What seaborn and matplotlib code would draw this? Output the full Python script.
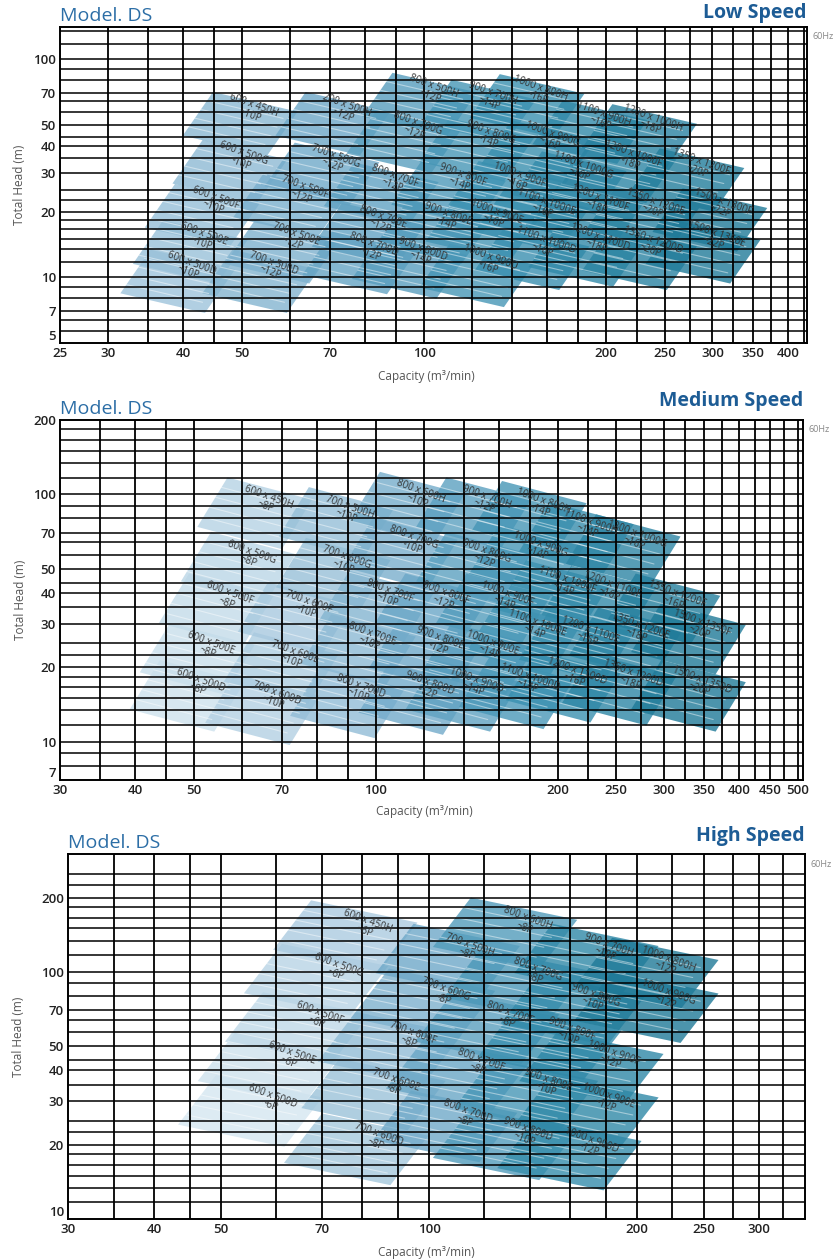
import numpy as np
import matplotlib
matplotlib.use("Agg")
import matplotlib.pyplot as plt
from matplotlib.ticker import FixedLocator, FixedFormatter, NullLocator
import seaborn as sns

# ---- Low speed (60Hz) ----------------------------------------------------
low_models = ["600 x 450H", "200 x 500H", "800 x 500H", "900 x 700H", "1000 x 800H",
              "1100 x 900H", "1200 x 1000H",
              "600 x 500G", "700 x 500G", "800 x 700G", "900 x 800G", "1000 x 900G",
              "1100 x 1000G", "1200 x 1000F", "1350 x 1200F", "1500 x 1300F",
              "600 x 500F", "700 x 500F", "800 x 700F", "900 x 800F", "1000 x 900F",
              "1100 x 1000E", "1200 x 1100F", "1350 x 1200E", "1500 x 1350E",
              "600 x 500E", "700 x 500E", "800 x 700E", "900 x 800E", "1000 x 900E",
              "1100 x 1000D", "1200 x 1100D", "1350 x 1200D",
              "600 x 500D", "700 x 500D", "800 x 700D", "900 x 800D", "1000 x 900D"]
low_poles = ["~10P", "~12P", "~12P", "~14P", "~16P", "~16P", "~18P",
             "~10P", "~12P", "~12P", "~14P", "~16P", "~16P", "~18P", "~20P", "~22P",
             "~10P", "~12P", "~12P", "~14P", "~16P", "~16P", "~18P", "~20P", "~22P",
             "~10P", "~12P", "~12P", "~14P", "~16P", "~16P", "~18P", "~20P",
             "~10P", "~12P", "~12P", "~14P", "~16P"]
low_q = [52, 74, 103, 129, 155, 197, 238,
         50, 71, 97, 128, 162, 182, 220, 285, 311,
         45, 63, 89, 115, 143, 158, 194, 240, 303,
         43, 61, 85, 109, 131, 158, 194, 238,
         41, 56, 82, 99, 128]
low_h = [58, 58, 71, 66, 70, 53, 51,
         35, 34, 48, 44, 43, 31, 35, 32, 21,
         22, 24.5, 27.6, 28, 28, 21, 22, 21, 15,
         15, 15, 18, 18.5, 19, 14, 14.5, 14,
         11, 11, 13.4, 12.8, 11.7]

# ---- Medium speed --------------------------------------------------------
med_models = ["600 x 450H", "700 x 500H", "800 x 600H", "900 x 700H", "1000 x 800H",
              "1100 x 900H", "1200 x 1000G",
              "600 x 500G", "700 x 600G", "800 x 700G", "900 x 800G", "1000 x 900G",
              "1100 x 1000F", "1200 x 1100F", "1350 x 1200F", "1500 x 1350F",
              "600 x 500F", "700 x 600F", "800 x 700F", "900 x 800F", "1000 x 900F",
              "1100 x 1000E", "1200 x 1100E", "1350 x 1200E",
              "600 x 500E", "700 x 600E", "800 x 700E", "900 x 800E", "1000 x 900E",
              "1100 x 1000D", "1200 x 1100D", "1350 x 1200D", "1500 x 1350D",
              "600 x 500D", "700 x 600D", "800 x 700D", "900 x 800D", "1000 x 900D"]
med_poles = ["~8P", "~10P", "~10P", "~12P", "~14P", "~14P", "~16P",
             "~8P", "~10P", "~10P", "~12P", "~14P", "~14P", "~16P", "~16P", "~20P",
             "~8P", "~10P", "~10P", "~12P", "~14P", "~14P", "~16P", "~18P",
             "~8P", "~10P", "~10P", "~12P", "~14P", "~14P", "~16P", "~18P", "~20P",
             "~8P", "~10P", "~10P", "~12P", "~14P"]
med_q = [66, 90, 118, 152, 188, 225, 269,
         62, 89, 115, 152, 186, 206, 245, 313, 345,
         57, 77, 105, 130, 164, 184, 225, 272,
         53, 73, 98, 127, 155, 179, 214, 265, 345,
         51, 68, 94, 122, 146]
med_h = [93, 85, 98, 93, 90, 74, 66,
         56, 53, 64, 56, 60, 43, 41, 38, 29,
         38, 35, 39, 38, 38, 29, 27, 28,
         24, 22, 26, 25, 24, 17.4, 18.5, 18, 17,
         17, 15, 16, 16.5, 17]

# ---- High speed ----------------------------------------------------------
high_models = ["600 x 450H", "600 x 500G", "600 x 500F", "600 x 500E", "600 x 500D",
               "700 x 500H", "700 x 600G", "700 x 600F", "700 x 600E", "700 x 600D",
               "800 x 600H", "800 x 700G", "800 x 700F", "800 x 700E", "800 x 700D",
               "900 x 700H", "900 x 800G", "900 x 800F", "900 x 800E", "900 x 800D",
               "1000 x 800H", "1000 x 900G", "1000 x 900F", "1000 x 900E", "1000 x 900D"]
high_poles = ["~6P"] * 5 + ["~8P"] * 10 + ["~10P"] * 5 + ["~12P"] * 5
high_q = [81, 73.5, 69, 63, 59,
          114, 105, 94, 89, 84,
          138, 143, 130, 118, 113,
          181, 173, 160, 148, 138,
          221, 221, 184, 181, 171]
high_h = [153, 102, 65, 45, 30,
          123, 81, 54, 35, 21,
          157, 98, 65, 42, 26,
          123, 77, 56, 35, 22,
          108, 79, 45, 30, 20]

# axis ticks of each panel
low_xticks = [25, 30, 40, 50, 70, 100, 200, 250, 300, 350, 400]
low_yticks = [5, 7, 10, 20, 30, 40, 50, 70, 100]
med_xticks = [30, 40, 50, 70, 100, 200, 250, 300, 350, 400, 450, 500]
med_yticks = [7, 10, 20, 30, 40, 50, 70, 100, 200]
high_xticks = [30, 40, 50, 70, 100, 200, 250, 300]
high_yticks = [10, 20, 30, 40, 50, 70, 100, 200]

grid_q = [25, 30, 35, 40, 45, 50, 60, 70, 80, 90, 100, 120, 140, 160, 180, 200,
          225, 250, 275, 300, 325, 350, 375, 400, 425, 450, 475, 500]
grid_h_decade = [1, 1.17, 1.34, 1.5, 1.66, 1.83, 2, 2.25, 2.5, 3, 3.5, 4, 4.4, 5,
                 5.7, 6.4, 7, 8, 9]

sns.set_theme(style="white")
plt.rcParams["font.family"] = ["Open Sans", "DejaVu Sans"]

shade = sns.blend_palette(["#d5e6f0", "#a9cadf", "#6ea8c8", "#3b91b1", "#1f7a98"],
                          as_cmap=True)

# tile edges in log decades: along the pump curve (A) and across it (B)
A = np.array([0.14, -0.09])
B = np.array([0.05, 0.20])


def draw_tiles(ax, models, poles, q, h, light, scale, shift):
    lq, lh = np.log10(q), np.log10(h)
    t = (lq - lq.min()) / (lq.max() - lq.min())
    a, b = A * scale, B * scale
    for i in np.argsort(lq):
        c = np.array([lq[i], lh[i]]) + shift
        corners = np.array([c - a / 2 - b / 2, c + a / 2 - b / 2,
                            c + a / 2 + b / 2, c - a / 2 + b / 2])
        ax.fill(10 ** corners[:, 0], 10 ** corners[:, 1],
                color=shade(light + (1 - light) * t[i]), lw=0, alpha=0.8, zorder=1)
        for f in (0.2, 0.4, 0.6, 0.8):
            p0 = c - a / 2 + (f - 0.5) * b
            p1 = p0 + a * 0.9
            ax.plot(10 ** np.array([p0[0], p1[0]]), 10 ** np.array([p0[1], p1[1]]),
                    color="white", lw=0.8, alpha=0.45, zorder=2)
    for m, p, x, y in zip(models, poles, q, h):
        ax.text(x, y, m + "\n" + p, fontsize=7, color="#333333", ha="center",
                va="center", rotation=-20, linespacing=0.9, zorder=5)


def setup(ax, xlim, ylim, xticks, yticks, speed, speed_y, ylab_x, xlab):
    ax.set_xscale("log")
    ax.set_yscale("log")
    ax.set_xlim(*xlim)
    ax.set_ylim(*ylim)
    for v in grid_q:
        if xlim[0] < v < xlim[1]:
            ax.axvline(v, color="black", lw=1.3, zorder=3)
    for dec in (1, 10, 100):
        for g in grid_h_decade:
            v = g * dec
            if ylim[0] < v < ylim[1]:
                ax.axhline(v, color="black", lw=1.1, zorder=3)
    ax.xaxis.set_major_locator(FixedLocator(xticks))
    ax.xaxis.set_major_formatter(FixedFormatter([str(v) for v in xticks]))
    ax.yaxis.set_major_locator(FixedLocator(yticks))
    ax.yaxis.set_major_formatter(FixedFormatter([str(v) for v in yticks]))
    ax.xaxis.set_minor_locator(NullLocator())
    ax.yaxis.set_minor_locator(NullLocator())
    ax.tick_params(length=0, labelsize=9.5, colors="#222222", pad=3)
    for lab in ax.get_xticklabels() + ax.get_yticklabels():
        lab.set_fontweight("semibold")
    # the lowest head label sits just above the corner, as in the print
    ax.yaxis.get_major_ticks()[0].label1.set_verticalalignment("bottom")
    for s in ax.spines.values():
        s.set_color("black")
        s.set_linewidth(1.4)
        s.set_zorder(4)
    ax.set_ylabel("Total Head (m)", fontsize=8.5, color="#555555")
    ax.yaxis.set_label_coords(ylab_x, 0.5)
    ax.set_xlabel("Capacity (m\u00b3/min)", fontsize=8.5, color="#555555")
    ax.xaxis.set_label_coords(*xlab)
    ax.text(0, 1.006, "Model. DS", transform=ax.transAxes, fontsize=14,
            color="#2c6ea6", ha="left", va="bottom")
    ax.text(1, speed_y, speed, transform=ax.transAxes, fontsize=14, fontweight="bold",
            color="#1d5c95", ha="right", va="bottom")
    ax.text(1.008, 0.985, "60Hz", transform=ax.transAxes, fontsize=6.5,
            color="#888888", ha="left", va="top")


fig = plt.figure(figsize=(8.4, 12.6), dpi=100)

ax1 = fig.add_axes([0.0714, 0.7278, 0.8893, 0.2508])
draw_tiles(ax1, low_models, low_poles, low_q, low_h, 0.3, (1.0, 1.0), (-0.02, -0.06))
setup(ax1, (25, 430), (5, 140), low_xticks, low_yticks, "Low Speed", 1.012,
      -0.045, (0.49, -0.085))

ax2 = fig.add_axes([0.0714, 0.381, 0.8846, 0.2857])
draw_tiles(ax2, med_models, med_poles, med_q, med_h, 0.05, (1.0, 1.0), (-0.02, -0.045))
setup(ax2, (30, 510), (7, 200), med_xticks, med_yticks, "Medium Speed", 1.025,
      -0.045, (0.49, -0.07))

ax3 = fig.add_axes([0.081, 0.0325, 0.8773, 0.2897])
draw_tiles(ax3, high_models, high_poles, high_q, high_h, 0.0, (1.1, 1.0), (-0.03, -0.04))
setup(ax3, (30, 350), (10, 300), high_xticks, high_yticks, "High Speed", 1.022,
      -0.058, (0.486, -0.075))

fig.savefig("out.png", dpi=100)
